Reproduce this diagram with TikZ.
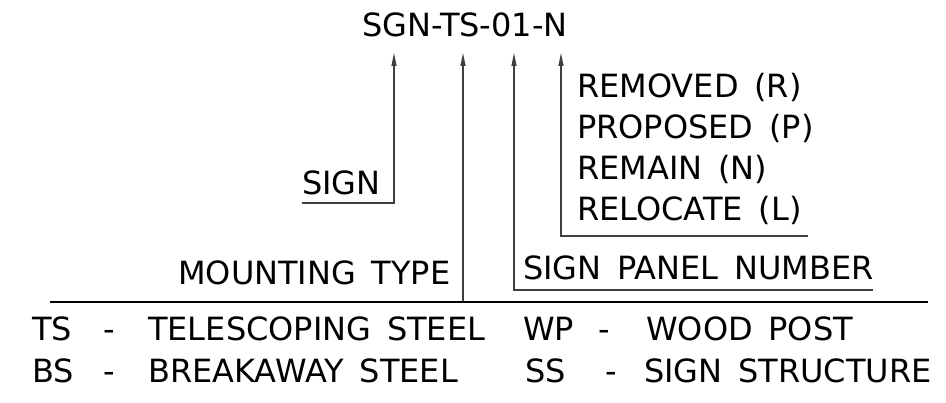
\documentclass[tikz,border=0pt]{standalone}
\usepackage{fontspec}
\setmainfont[WordSpace=1.55]{DejaVu Sans}
\usetikzlibrary{arrows.meta}

\begin{document}
\begin{tikzpicture}[x=1pt, y=-1pt, >={Triangle[length=13pt,width=5pt]},
    every node/.style={font=\fontsize{32}{32}\selectfont, inner sep=0pt, anchor=base west},
    leader/.style={line width=1.1pt, black!75},
    rule/.style={line width=1.3pt, black}]

    \useasboundingbox (0,0) rectangle (946,403);

    % Punte delle frecce (sotto il codice)
    \coordinate (Tsign)  at (394,53);
    \coordinate (Tmount) at (463,53);
    \coordinate (Tpanel) at (514,53);
    \coordinate (Tstat)  at (561,53);

    % Gomiti e fine delle linee di richiamo
    \coordinate (Csign)  at (394,203);
    \coordinate (Esign)  at (302,203);
    \coordinate (Cmount) at (463,302);
    \coordinate (Cpanel) at (514,290);
    \coordinate (Epanel) at (873,290);
    \coordinate (Cstat)  at (561,236);
    \coordinate (Estat)  at (808,236);

    % Linea di base
    \coordinate (Lbase) at (50,302);
    \coordinate (Rbase) at (928,302);

    % --- CODICE ---
    \node[anchor=base] (code) at (465,37) {SGN-TS-01-N};

    % --- ETICHETTE ---
    \node (sign)  at (302,195) {SIGN};
    \node (mount) at (178,285) {MOUNTING TYPE};
    \node (panel) at (523,280) {SIGN PANEL NUMBER};

    \foreach \txt [count=\i] in {REMOVED (R), PROPOSED (P), REMAIN (N), RELOCATE (L)} {
        \node (st\i) at (577, {57.3+40.7*\i}) {\txt};
    }

    % --- LINEE DI RICHIAMO ---
    \draw[leader, ->] (Esign) -- (Csign) -- (Tsign);
    \draw[leader, ->] (Cmount) -- (Tmount);
    \draw[leader, ->] (Epanel) -- (Cpanel) -- (Tpanel);
    \draw[leader, ->] (Estat) -- (Cstat) -- (Tstat);

    \draw[rule] (Lbase) -- (Rbase);

    % --- LEGENDA ---
    \node (ts)   at (32,341)  {TS};
    \node (tsd)  at (103,341) {-};
    \node (tst)  at (148,341) {TELESCOPING STEEL};
    \node (bs)   at (32,383)  {BS};
    \node (bsd)  at (103,383) {-};
    \node (bst)  at (148,383) {BREAKAWAY STEEL};

    \node (wp)   at (523,341) {WP};
    \node (wpd)  at (598,341) {-};
    \node (wpt)  at (646,341) {WOOD POST};
    \node (ss)   at (525,383) {SS};
    \node (ssd)  at (605,383) {-};
    \node (sst)  at (644,383) {SIGN STRUCTURE};

\end{tikzpicture}
\end{document}
